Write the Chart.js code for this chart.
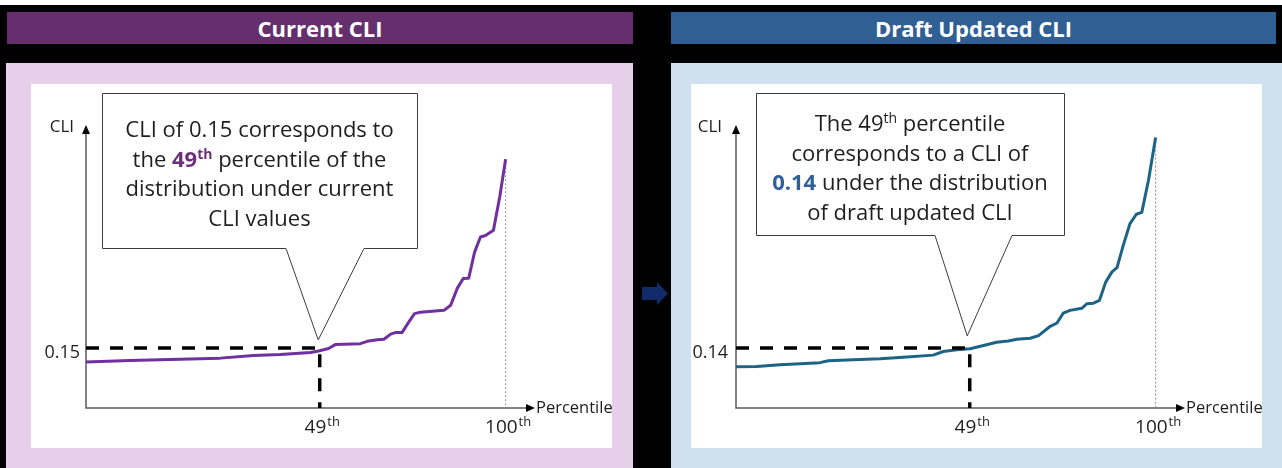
<!DOCTYPE html>
<html lang="en">
<head>
<meta charset="UTF-8">
<title>Current CLI vs Draft Updated CLI</title>
<script src="https://cdn.jsdelivr.net/npm/chart.js"></script>
<style>
  body {
    margin: 0;
    width: 1282px;
    height: 468px;
    background: #000;
    position: relative;
    overflow: hidden;
    font-family: "Open Sans", "Noto Sans", sans-serif;
  }
  .strip { position: absolute; left: 0; top: 0; width: 1282px; height: 5px; background: #fff; }
  .header {
    position: absolute; top: 12px; height: 32px; line-height: 32px;
    color: #fff; font-weight: bold; font-size: 22px; text-align: center;
  }
  .panel { position: absolute; top: 63px; height: 405px; }
  .white { position: absolute; top: 84px; height: 364px; background: #fff; }
  canvas { position: absolute; top: 84px; }
  .callout {
    position: absolute; text-align: center; color: #1e1e1e;
    font-size: 22px; line-height: 29.5px;
  }
  .callout sup { font-size: 14px; line-height: 0; vertical-align: 8px; }
  .callout b { font-weight: bold; }
  .arrow { position: absolute; left: 642px; top: 282px; }
</style>
</head>
<body>
  <div class="strip"></div>

  <div class="header" style="left:7px;width:626px;background:#642f6c;">Current CLI</div>
  <div class="header" style="left:671px;width:605px;background:#2f5f93;">Draft Updated CLI</div>

  <div class="panel" style="left:6px;width:627px;background:#e6cfe8;"></div>
  <div class="panel" style="left:671px;width:611px;background:#d0e0ef;"></div>

  <div class="white" style="left:31px;width:581px;"></div>
  <div class="white" style="left:691px;width:571px;"></div>

  <canvas id="currentChart" width="581" height="364" style="left:31px;"></canvas>
  <canvas id="draftChart" width="571" height="364" style="left:691px;"></canvas>

  <div class="callout" style="left:102px;width:315px;top:114px;">
    CLI of 0.15 corresponds to<br>
    the <b style="color:#6b2f7b;">49<sup>th</sup></b> percentile of the<br>
    distribution under current<br>
    CLI values
  </div>
  <div class="callout" style="left:756px;width:308px;top:108px;">
    The 49<sup>th</sup> percentile<br>
    corresponds to a CLI of<br>
    <b style="color:#2f5f98;">0.14</b> under the distribution<br>
    of draft updated CLI
  </div>

  <svg class="arrow" width="27" height="24">
    <polygon points="0,5 15,5 15,0 26,11.5 15,23 15,18 0,18" fill="#102b6a"/>
  </svg>

<script>
  // position along the percentile axis (0 = axis origin, 100 = top percentile)
  const currentPct = [0, 10.5, 22.4, 32.0, 39.9, 46.3, 53.5, 55.4, 57.8, 59.4,
                      65.4, 67.0, 69.4, 71.0, 72.6, 73.7, 75.3, 76.9, 78.3, 79.7,
                      85.3, 86.9, 88.5, 89.9, 91.2, 92.6, 94.0, 95.2, 97.1, 98.6, 100];
  const currentCli = [0.1453, 0.1458, 0.1462, 0.1466, 0.1475, 0.1478, 0.1485, 0.1490, 0.1498, 0.1511,
                      0.1514, 0.1522, 0.1527, 0.1529, 0.1546, 0.1551, 0.1551, 0.1586, 0.1614, 0.1619,
                      0.1625, 0.1642, 0.1699, 0.1731, 0.1732, 0.1819, 0.1869, 0.1874, 0.1892, 0.2003, 0.2128];

  const draftPct = [0, 4.9, 10.5, 15.3, 20.0, 22.0, 28.0, 34.3, 39.9, 47.0,
                    49.4, 52.6, 55.8, 59.0, 62.1, 64.9, 66.9, 70.1, 72.1, 74.9,
                    76.5, 78.0, 79.6, 82.4, 83.6, 85.2, 86.6, 88.1, 89.6, 90.8,
                    92.3, 93.9, 95.4, 96.7, 98.3, 100];
  const draftCli = [0.1337, 0.1338, 0.1344, 0.1347, 0.1351, 0.1357, 0.1361, 0.1364, 0.1369, 0.1376,
                    0.1388, 0.1394, 0.1397, 0.1408, 0.1419, 0.1423, 0.1429, 0.1432, 0.1441, 0.1472,
                    0.1483, 0.1516, 0.1525, 0.1532, 0.1547, 0.1549, 0.1558, 0.1619, 0.1653, 0.1667,
                    0.1742, 0.1814, 0.1845, 0.1851, 0.1958, 0.2100];

  const tickPos = [55.7, 100];
  const tickBase = ['49', '100'];
  const tickSup = ['th', 'th'];

  const currentRef = 0.15;
  const draftRef = 0.14;

  const FONT = '"Open Sans", "Noto Sans", sans-serif';

  function drawSup(ctx, base, sup, cx, baseline, size) {
    ctx.font = size + 'px ' + FONT;
    const w1 = ctx.measureText(base).width;
    ctx.font = Math.round(size * 0.68) + 'px ' + FONT;
    const w2 = ctx.measureText(sup).width;
    const x0 = cx - (w1 + w2) / 2;
    ctx.textAlign = 'left';
    ctx.textBaseline = 'alphabetic';
    ctx.font = size + 'px ' + FONT;
    ctx.fillText(base, x0, baseline);
    ctx.font = Math.round(size * 0.68) + 'px ' + FONT;
    ctx.fillText(sup, x0 + w1 + 1, baseline - size * 0.38);
  }

  const overlay = {
    id: 'overlay',
    beforeDatasetsDraw(chart, args, o) {
      const { ctx, chartArea: a } = chart;
      ctx.save();
      ctx.strokeStyle = '#5a5a5a';
      ctx.lineWidth = 1.5;
      ctx.beginPath();
      ctx.moveTo(a.left, a.top + 8);
      ctx.lineTo(a.left, a.bottom);
      ctx.lineTo(a.right - 7, a.bottom);
      ctx.stroke();
      ctx.fillStyle = '#000';
      ctx.beginPath();
      ctx.moveTo(a.left, a.top);
      ctx.lineTo(a.left - 4, a.top + 9);
      ctx.lineTo(a.left + 4, a.top + 9);
      ctx.fill();
      ctx.beginPath();
      ctx.moveTo(a.right, a.bottom);
      ctx.lineTo(a.right - 9, a.bottom - 4);
      ctx.lineTo(a.right - 9, a.bottom + 4);
      ctx.fill();
      ctx.restore();
    },
    afterDatasetsDraw(chart, args, o) {
      const { ctx, chartArea: a, scales: { x, y } } = chart;
      ctx.save();
      ctx.fillStyle = '#1e1e1e';
      // axis titles
      ctx.font = '17px ' + FONT;
      ctx.textAlign = 'right';
      ctx.textBaseline = 'middle';
      ctx.fillText('CLI', a.left - o.cliGap, a.top + 2);
      ctx.textAlign = 'left';
      ctx.font = '16.5px ' + FONT;
      ctx.fillText('Percentile', a.right + 1, a.bottom);
      // y reference label
      ctx.font = '18px ' + FONT;
      ctx.textAlign = 'right';
      ctx.fillText(o.refLabel, a.left - o.refGap, y.getPixelForValue(o.ref) + 5);
      // x tick labels
      tickPos.forEach((p, i) => {
        drawSup(ctx, tickBase[i], tickSup[i], x.getPixelForValue(p) + 2, a.bottom + 25, 19);
      });
      // callout box with pointer
      const b = o.box;
      const tx = x.getPixelForValue(tickPos[0]) + o.tipDx;
      const ty = y.getPixelForValue(o.ref) + o.tipDy;
      ctx.beginPath();
      ctx.moveTo(b[0] + 0.5, b[1] + 0.5);
      ctx.lineTo(b[2] + 0.5, b[1] + 0.5);
      ctx.lineTo(b[2] + 0.5, b[3] + 0.5);
      ctx.lineTo(o.base[1], b[3] + 0.5);
      ctx.lineTo(tx, ty);
      ctx.lineTo(o.base[0], b[3] + 0.5);
      ctx.lineTo(b[0] + 0.5, b[3] + 0.5);
      ctx.closePath();
      ctx.fillStyle = '#fff';
      ctx.fill();
      ctx.strokeStyle = '#3c3c3c';
      ctx.lineWidth = 1;
      ctx.stroke();
      ctx.restore();
    }
  };

  function makeChart(id, xs, ys, color, ref, yMin, yMax, pad, opts) {
    const series = xs.map((v, i) => ({ x: v, y: ys[i] }));
    const last = ys[ys.length - 1];
    new Chart(document.getElementById(id), {
      type: 'line',
      data: {
        datasets: [
          {
            // dashed guide at the reference value and the 49th percentile
            data: [{ x: 0, y: ref }, { x: tickPos[0], y: ref }, { x: tickPos[0], y: yMin }],
            borderColor: '#000', borderWidth: 3.5, borderDash: [13, 11],
            pointRadius: 0, tension: 0
          },
          {
            data: series,
            borderColor: color, borderWidth: 3,
            pointRadius: 0, tension: 0, borderJoinStyle: 'round'
          },
          {
            data: [{ x: tickPos[1], y: last }, { x: tickPos[1], y: yMin }],
            borderColor: '#8c8c8c', borderWidth: 1, borderDash: [2, 2],
            pointRadius: 0
          }
        ]
      },
      options: {
        responsive: false,
        animation: false,
        events: [],
        clip: false,
        layout: { padding: pad },
        scales: {
          x: { type: 'linear', min: 0, max: 107, display: false },
          y: { type: 'linear', min: yMin, max: yMax, display: false }
        },
        plugins: {
          legend: { display: false },
          tooltip: { enabled: false },
          overlay: opts
        }
      },
      plugins: [overlay]
    });
  }

  makeChart('currentChart', currentPct, currentCli, '#7030a0', currentRef, 0.13, 0.2242,
    { left: 55, right: 77, top: 41, bottom: 40 },
    { ref: currentRef, refLabel: '0.15', refGap: 6, cliGap: 12,
      box: [71, 9, 386, 164], base: [255, 333], tipDx: -1.5, tipDy: -8 });

  makeChart('draftChart', draftPct, draftCli, '#1c6486', draftRef, 0.12, 0.2142,
    { left: 45, right: 77, top: 41, bottom: 40 },
    { ref: draftRef, refLabel: '0.14', refGap: 8, cliGap: 14,
      box: [65, 9, 373, 151], base: [244, 321], tipDx: -2.5, tipDy: -12 });
</script>
</body>
</html>
